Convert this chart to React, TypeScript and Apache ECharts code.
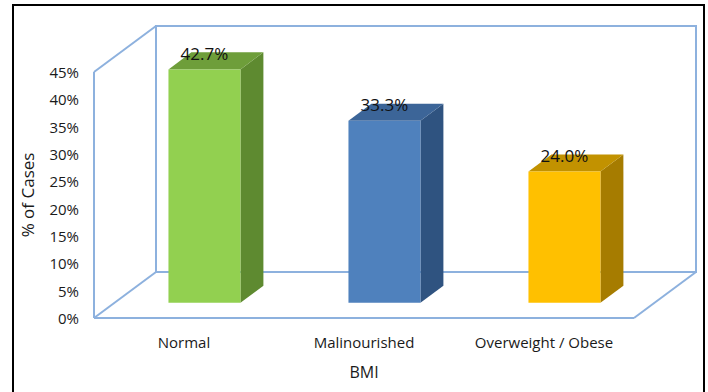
import React, { useEffect, useRef } from "react";
import * as echarts from "echarts";

const categories = ["Normal", "Malinourished", "Overweight / Obese"];
const percentValues = [42.7, 33.3, 24.0];
const yTicks = [0, 5, 10, 15, 20, 25, 30, 35, 40, 45];

const frontColors = ["#92D050", "#4F81BD", "#FFC000"];
const sideColors = ["#5E8A30", "#2F5380", "#A67C00"];
const topColors = ["#6E9E3A", "#3C6598", "#C29200"];

const DEPTH = [62, -46];
const BAR_OFFSET = 0.33;
const BAR_DEPTH = 0.37;
const FONT = "Open Sans";
const TEXT = "#1a1a1a";

export default function App() {
  const ref = useRef<HTMLDivElement>(null);

  useEffect(() => {
    if (!ref.current) return;
    const chart = echarts.init(ref.current, null, { renderer: "svg" });
    const frameColor = "#8DB1DE";

    const option: any = {
      animation: false,
      backgroundColor: "#ffffff",
      grid: { left: 94, right: 74, top: 72, bottom: 74, containLabel: false },
      xAxis: {
        type: "category",
        data: categories,
        axisLine: { show: false },
        axisTick: { show: false },
        axisLabel: { margin: 16, fontSize: 15, color: TEXT, fontFamily: FONT },
        name: "BMI",
        nameLocation: "middle",
        nameGap: 46,
        nameTextStyle: { fontSize: 16, color: TEXT, fontFamily: FONT },
      },
      yAxis: {
        type: "value",
        min: yTicks[0],
        max: yTicks[yTicks.length - 1],
        interval: 5,
        axisLine: { show: false },
        axisTick: { show: false },
        splitLine: { show: false },
        axisLabel: {
          margin: 15,
          fontSize: 15,
          color: TEXT,
          fontFamily: FONT,
          formatter: (v: number) => `${v}%`,
        },
        name: "% of Cases",
        nameLocation: "middle",
        nameGap: 58,
        nameTextStyle: { fontSize: 17, color: TEXT, fontFamily: FONT },
      },
      graphic: [
        {
          type: "rect",
          shape: { x: 13, y: 5, width: 691, height: 400 },
          style: { fill: "none", stroke: "#000", lineWidth: 2 },
          silent: true,
        },
      ],
      series: [
        {
          type: "custom",
          z: 1,
          data: [[0, 0]],
          renderItem: (params: any) => {
            const cs = params.coordSys;
            const x = cs.x, y = cs.y, w = cs.width, h = cs.height;
            const [dx, dy] = DEPTH;
            const st = { stroke: frameColor, lineWidth: 2, fill: "none" };
            const line = (x1: number, y1: number, x2: number, y2: number) => ({
              type: "line",
              shape: { x1, y1, x2, y2 },
              style: st,
            });
            return {
              type: "group",
              children: [
                { type: "rect", shape: { x: x + dx, y: y + dy, width: w, height: h }, style: st },
                line(x, y, x + dx, y + dy),
                line(x, y + h, x + dx, y + h + dy),
                line(x, y, x, y + h),
                line(x, y + h, x + w, y + h),
                line(x + w, y + h, x + w + dx, y + h + dy),
              ],
            };
          },
        },
        {
          type: "custom",
          z: 2,
          data: percentValues.map((v, i) => [i, v]),
          renderItem: (params: any, api: any) => {
            const i = api.value(0);
            const v = api.value(1);
            const base = api.coord([i, 0]);
            const top = api.coord([i, v]);
            const bw = api.size([1, 0])[0];
            const ox = DEPTH[0] * BAR_OFFSET;
            const oy = DEPTH[1] * BAR_OFFSET;
            const ddx = DEPTH[0] * BAR_DEPTH;
            const ddy = DEPTH[1] * BAR_DEPTH;
            const cx = base[0] + ox;
            const l = cx - bw * 0.2;
            const r = cx + bw * 0.2;
            const yb = base[1] + oy;
            const yt = top[1] + oy;
            const idx = params.dataIndex;
            return {
              type: "group",
              children: [
                {
                  type: "polygon",
                  shape: { points: [[r, yt], [r + ddx, yt + ddy], [r + ddx, yb + ddy], [r, yb]] },
                  style: { fill: sideColors[idx] },
                },
                {
                  type: "polygon",
                  shape: { points: [[l, yt], [r, yt], [r + ddx, yt + ddy], [l + ddx, yt + ddy]] },
                  style: { fill: topColors[idx] },
                },
                {
                  type: "rect",
                  shape: { x: l, y: yt, width: r - l, height: yb - yt },
                  style: { fill: frontColors[idx] },
                },
                {
                  type: "text",
                  x: cx,
                  y: yt + ddy + 1,
                  style: {
                    text: `${v.toFixed(1)}%`,
                    fill: "#111",
                    fontSize: 17,
                    fontFamily: FONT,
                    align: "center",
                    verticalAlign: "middle",
                  },
                },
              ],
            };
          },
        },
      ],
    };

    chart.setOption(option);
    return () => chart.dispose();
  }, []);

  return (
    <div
      ref={ref}
      style={{ position: "absolute", left: 0, top: 0, width: 708, height: 392 }}
    />
  );
}
